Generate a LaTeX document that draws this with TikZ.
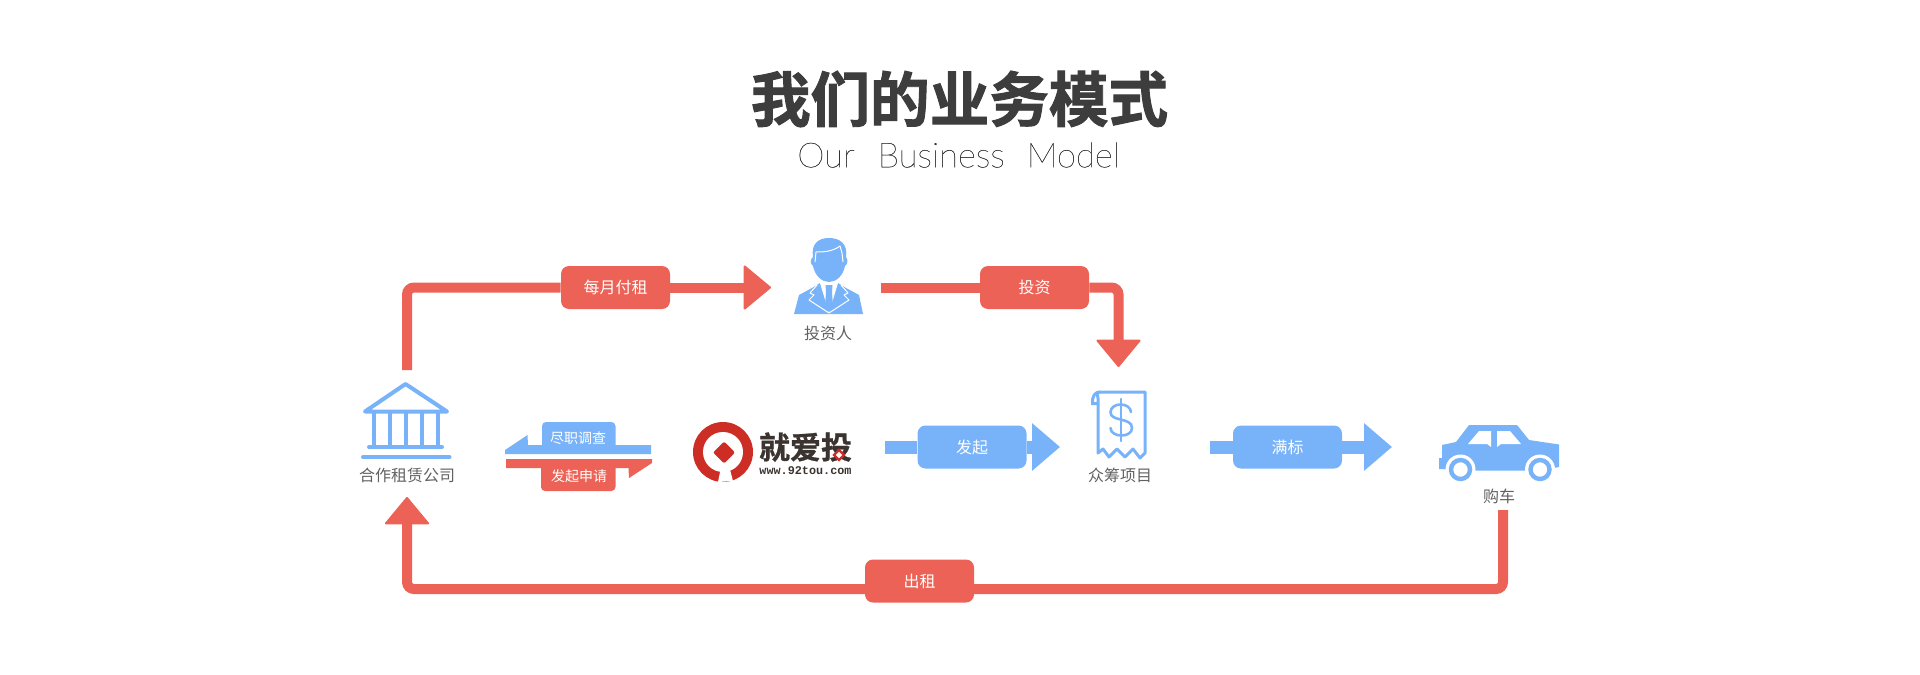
\documentclass[tikz,border=0pt]{standalone}
\usepackage{fontspec}
\usetikzlibrary{arrows.meta}
\newfontfamily\cjk[BoldFont={Noto Sans CJK SC Bold},BoldFeatures={FakeBold=1.6}]{Noto Sans CJK SC}
\newfontfamily\logocjk[FakeBold=0.8]{Noto Sans CJK SC Bold}
\newfontfamily\thin[UprightFont={* Thin},UprightFeatures={FakeBold=0.5}]{Lato}
\newfontfamily\monofnt{Liberation Mono}[BoldFont={Liberation Mono Bold}]
\definecolor{redc}{HTML}{EC6256}
\definecolor{bluec}{HTML}{78B2F8}
\definecolor{logored}{HTML}{CC2E26}
\definecolor{logodark}{HTML}{3A3330}
\tikzset{
    redbox/.style = {fill=redc, rounded corners=4pt, minimum width=54.5pt, minimum height=21.5pt,
                     inner sep=0pt, text=white, font=\cjk\fontsize{8}{8}\selectfont},
    bluebox/.style = {redbox, fill=bluec},
    caption/.style = {inner sep=0pt, text=black!62, font=\cjk\fontsize{8}{8}\selectfont},
    swaplabel/.style = {inner sep=0pt, text=white, font=\cjk\fontsize{7}{7}\selectfont},
    redline/.style = {draw=redc, line width=5pt, rounded corners=3.5pt},
    blueline/.style = {draw=bluec, line width=6.5pt},
    redtip/.style = {-{Triangle[width=23pt,length=14pt,round,line width=1pt]}},
    bluetip/.style = {-{Triangle[width=23pt,length=14pt]}},
    icon/.style = {draw=bluec, line width=2pt, line cap=round},
    suitline/.style = {white, line width=0.5pt, line join=round}
}
\begin{document}
\begin{tikzpicture}[x=0.5pt, y=-0.5pt]
    \useasboundingbox (0,0) rectangle (1920,674);
    % title
    \node (title) at (959.5,99) [inner sep=0pt, text=black!76, font=\cjk\bfseries\fontsize{29.8}{30}\selectfont] {我们的业务模式};
    \node (subtitle) at (958.5,155) [inner sep=0pt, text=black!80, font=\thin\fontsize{17.3}{20}\selectfont] {Our\hspace{6.5pt} Business\hspace{6pt} Model};
    % boxes on the long arrows
    \node (rentbox) at (615.5,287.5) [redbox] {每月付租};
    \node (investbox) at (1034.5,287.5) [redbox] {投资};
    \node (leasebox) at (919.5,581) [redbox] {出租};
    \node (startbox) at (972,447) [bluebox] {发起};
    \node (fullbox) at (1287.5,447) [bluebox] {满标};
    % free ends
    \coordinate (bankout) at (407,370);
    \coordinate (persontip) at (771,287.5);
    \coordinate (personout) at (881,287.5);
    \coordinate (receipttip) at (1118.5,367);
    \coordinate (carout) at (1503,510);
    \coordinate (leaseright) at (973,589);
    \coordinate (leaseleft) at (866,589);
    \coordinate (banktip) at (407,497);
    \coordinate (logoout) at (885,447);
    \coordinate (receiptin) at (1060,447);
    \coordinate (receiptout) at (1210,447);
    \coordinate (cartip) at (1392,447);
    % connectors
    \draw[redline] (bankout) |- (rentbox.west);
    \draw[redline, redtip] (rentbox.east) -- (persontip);
    \draw[redline] (personout) -- (investbox.west);
    \draw[redline, redtip] (investbox.east) -| (receipttip);
    \draw[redline] (carout) |- (leaseright);
    \draw[redline, redtip] (leaseleft) -| (banktip);
    \draw[blueline] (logoout) -- (startbox.west);
    \draw[blueline, bluetip] (startbox.east) -- (receiptin);
    \draw[blueline] (receiptout) -- (fullbox.west);
    \draw[blueline, bluetip] (fullbox.east) -- (cartip);
    % bank
    \draw[icon, line join=round] (365,411.5) -- (405.5,384) -- (447,411.5) -- cycle;
    \foreach\i in {374, 390, 405.5, 421.5, 437.5}
        {\draw[icon, line cap=butt] (\i,411) -- (\i,447);};
    \draw[icon] (369,447) -- (442,447);
    \draw[icon] (363,457) -- (449.5,457);
    \node (bank) at (407,475) [caption] {合作租赁公司};
    % person
    \fill[bluec] (813,257) .. controls (811,244) and (818,238) .. (829,238)
        .. controls (840,238) and (848,244) .. (846,257)
        .. controls (848,259) and (848,264) .. (845,266)
        .. controls (843,276) and (836,282) .. (829,282)
        .. controls (822,282) and (815,276) .. (813,266)
        .. controls (810,264) and (810,259) .. (813,257) -- cycle;
    \fill[bluec] (794,314) -- (799,295) -- (812,288) -- (820,283) -- (838,283) -- (846,288) -- (859,295) -- (863,314) -- cycle;
    \fill[white] (820,283) -- (838,283) -- (829,313) -- cycle;
    \draw[suitline] (815,262) -- (816,252) .. controls (822,252) and (832,252) .. (840,246)
        -- (842,253) -- (843,262);
    \draw[suitline] (817,285) -- (810,293) -- (814,295) -- (809,300) -- (829,313)
        -- (849,300) -- (844,295) -- (848,293) -- (841,285);
    \fill[bluec] (825.5,285) -- (832.5,285) -- (832,292) -- (833,306) -- (829,312) -- (825,306) -- (826,292) -- cycle;
    \node (person) at (828,333) [caption] {投资人};
    % receipt
    \draw[icon, line width=1.5pt, line cap=butt, line join=round] (1098,398)
        .. controls (1098,395) and (1095,392) .. (1100,392) -- (1145,392) -- (1145,453)
        -- (1140,458) -- (1133,449) -- (1125,457) -- (1117,449) -- (1109,457) -- (1103,449) -- (1098,453) -- cycle;
    \draw[icon, line width=1.5pt, line cap=butt] (1098,403.5) -- (1092.5,403.5)
        .. controls (1092,396) and (1095,392) .. (1100,392);
    \draw[icon, line width=1.2pt] (1121,399) -- (1121,441);
    \draw[icon, line width=1.3pt] (1131,412) .. controls (1130,402) and (1111,402) .. (1110.5,412)
        .. controls (1110,422) and (1132,417) .. (1132,428)
        .. controls (1132,438) and (1111,438) .. (1110.5,428);
    \node (receipt) at (1120,475) [caption] {众筹项目};
    % car
    \fill[bluec] (1439,469) -- (1439,458) -- (1442,458) -- (1442,445) -- (1456,442) -- (1469,425)
        -- (1517,425) -- (1529,440) -- (1559,444.5) -- (1559,467) -- (1554,468) -- (1552,470.5)
        -- (1450,470.5) -- (1448,469) -- cycle;
    \fill[white] (1468,444) -- (1479,431) -- (1491,431) -- (1491,447) -- (1487,444) -- cycle;
    \fill[white] (1497,431) -- (1510,431) -- (1521,444) -- (1501,444) -- (1497,447) -- cycle;
    \foreach\i in {1460.5, 1540}
        {\fill[white] (\i,469.5) circle (15);
         \draw[bluec, line width=2.2pt] (\i,469.5) circle (9.5);};
    \node (car) at (1499,496) [caption] {购车};
    % swap arrows
    \fill[bluec] (505,450) -- (527.5,435) -- (528,445) -- (542,445) [rounded corners=2pt] -- (542,422)
        -- (615.5,422) [sharp corners] -- (615.5,445) -- (651,445) -- (651,454) -- (505,454) -- cycle;
    \fill[redc] (506,459) -- (652,459) -- (652,463) -- (629,478) -- (628.5,468) -- (615.5,468)
        [rounded corners=2pt] -- (615.5,491) -- (541,491) [sharp corners] -- (541,468) -- (506,468) -- cycle;
    \node (check) at (578,438) [swaplabel] {尽职调查};
    \node (apply) at (579,476) [swaplabel] {发起申请};
    % logo
    \fill[logored] (723,452) circle (30);
    \fill[white] (723,452) circle (20);
    \fill[white] (718,482) -- (733,481) -- (728,462) -- (722,462) -- cycle;
    \fill[logored, rounded corners=1pt] (724,441.5) -- (735,452.5) -- (724,463.5) -- (713,452.5) -- cycle;
    \node (logoname) at (805.5,447) [inner sep=0pt, text=logodark, font=\logocjk\fontsize{15.5}{16}\selectfont] {就爱投};
    \node (logourl) at (805.5,471) [inner sep=0pt, text=logodark, font=\monofnt\bfseries\fontsize{5.9}{6}\selectfont] {www.92tou.com};
    \filldraw[fill=white, draw=logored, line width=1.1pt] (839,450) -- (844,455) -- (839,460) -- (834,455) -- cycle;
\end{tikzpicture}
\end{document}
